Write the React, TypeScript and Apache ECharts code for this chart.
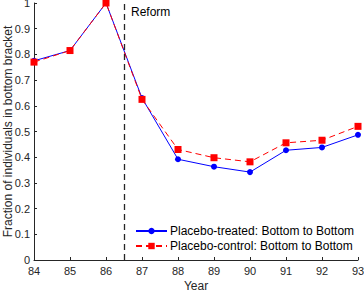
import React, { useEffect, useRef } from "react";
import * as echarts from "echarts";

const years = [84, 85, 86, 87, 88, 89, 90, 91, 92, 93];
const treated = [0.775, 0.815, 1.0, 0.63, 0.392, 0.363, 0.342, 0.427, 0.438, 0.487];
const control = [0.77, 0.815, 1.0, 0.625, 0.43, 0.398, 0.382, 0.456, 0.466, 0.52];
const reformYear = 86.5;
const seriesNames = ["Placebo-treated: Bottom to Bottom", "Placebo-control: Bottom to Bottom"];

export default function App() {
  const ref = useRef<HTMLDivElement>(null);
  useEffect(() => {
    if (!ref.current) return;
    const chart = echarts.init(ref.current, null, { renderer: "svg" });
    const font = "Liberation Sans, Arial, sans-serif";
    const axisColor = "#262626";
    chart.setOption({
      animation: false,
      textStyle: { fontFamily: font },
      grid: { left: 34, right: 6, top: 3, bottom: 32, outerBoundsMode: "none", containLabel: false },
      xAxis: {
        type: "value",
        min: 84,
        max: 93,
        interval: 1,
        name: "Year",
        nameLocation: "middle",
        nameGap: 20,
        nameMoveOverlap: false,
        nameTextStyle: { fontSize: 12, color: axisColor, fontFamily: font },
        axisLine: { lineStyle: { color: axisColor, width: 1 } },
        axisTick: { inside: true, length: 3, lineStyle: { color: axisColor } },
        axisLabel: { fontSize: 11, color: axisColor, margin: 5, fontFamily: font },
        splitLine: { show: false },
      },
      yAxis: {
        type: "value",
        min: 0,
        max: 1,
        interval: 0.1,
        name: "Fraction of individuals in bottom bracket",
        nameLocation: "middle",
        nameGap: 20,
        nameMoveOverlap: false,
        nameTextStyle: { fontSize: 12, color: axisColor, fontFamily: font },
        axisLine: { show: true, lineStyle: { color: axisColor, width: 1 } },
        axisTick: { show: true, inside: true, length: 3, lineStyle: { color: axisColor } },
        axisLabel: {
          fontSize: 11,
          color: axisColor,
          margin: 4,
          fontFamily: font,
          formatter: (v: number) => String(Math.round(v * 10) / 10),
        },
        splitLine: { show: false },
      },
      legend: {
        orient: "vertical",
        left: 130,
        top: 220,
        itemWidth: 31,
        itemHeight: 8,
        itemGap: 3,
        textStyle: { fontSize: 12, color: "#000", fontFamily: font, padding: [0, 0, 0, -2] },
        data: seriesNames,
      },
      graphic: [
        {
          type: "text",
          left: 131,
          top: 6,
          style: { text: "Reform", fontSize: 12, fill: "#000", fontFamily: font },
        },
      ],
      series: [
        {
          name: seriesNames[0],
          type: "line",
          data: years.map((y, i) => [y, treated[i]]),
          color: "#0000ff",
          lineStyle: { color: "#0000ff", width: 1 },
          symbol: "circle",
          symbolSize: 6,
          itemStyle: { color: "#0000ff" },
          z: 3,
          markLine: {
            silent: true,
            symbol: "none",
            label: { show: false },
            lineStyle: { color: "#262626", type: [6, 4], width: 1.3 },
            data: [{ xAxis: reformYear }],
          },
        },
        {
          name: seriesNames[1],
          type: "line",
          data: years.map((y, i) => [y, control[i]]),
          color: "#ff0000",
          lineStyle: { color: "#ff0000", width: 1, type: [6, 4] },
          symbol: "rect",
          symbolSize: 7,
          itemStyle: { color: "#ff0000" },
          z: 4,
        },
      ],
    });
    return () => chart.dispose();
  }, []);
  return <div ref={ref} style={{ width: 364, height: 292, position: "absolute", left: 0, top: 0 }} />;
}
